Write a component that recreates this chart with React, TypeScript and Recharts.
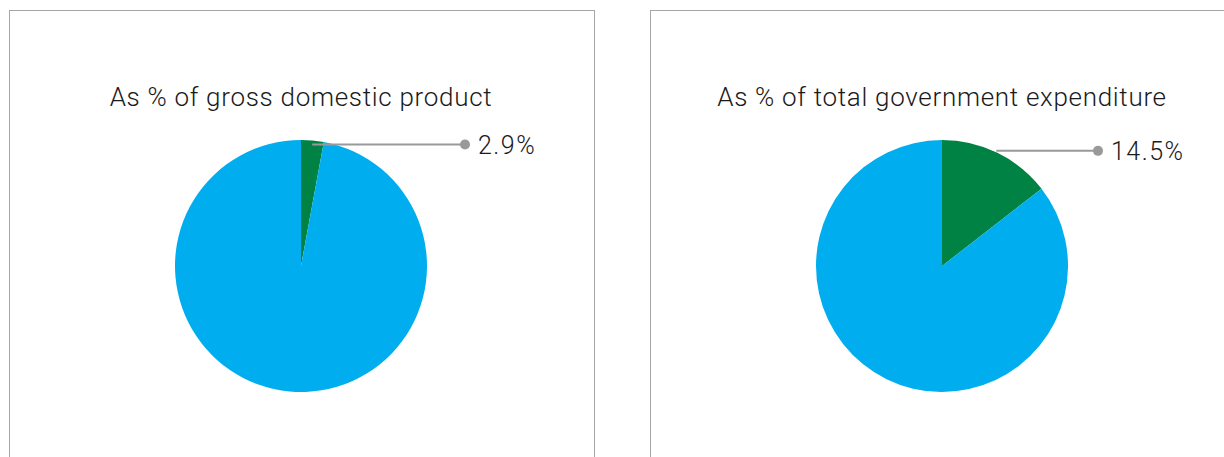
import { PieChart, Pie, Cell } from "recharts";

const titles = ["As % of gross domestic product", "As % of total government expenditure"];
const sliceNames = ["Share", "Rest"];
const gdpShare = [2.9, 97.1];
const expenditureShare = [14.5, 85.5];

const GREEN = "#008244";
const BLUE = "#00AEEF";

function CalloutLabel(props: any) {
  const { cx, cy, midAngle, outerRadius, index, value, dotX, lineDy } = props;
  if (index !== 0) return null;
  const rad = (Math.PI / 180) * midAngle;
  const x0 = cx + outerRadius * 0.98 * Math.cos(rad);
  const y = cy - outerRadius * Math.sin(rad) + lineDy;
  const xd = cx + dotX;
  return (
    <g>
      <line x1={x0} y1={y} x2={xd} y2={y} stroke="#999999" strokeWidth={2} />
      <circle cx={xd} cy={y} r={5} fill="#999999" />
      <text
        x={xd + 13}
        y={y}
        dy={9}
        fontSize={25}
        letterSpacing={1.5}
        fontFamily="Roboto, sans-serif"
        fontWeight={300}
        fill="#1a1a1a"
      >
        {value.toFixed(1)}%
      </text>
    </g>
  );
}

function Panel({ title, values, left, width, dotX, lineDy }: any) {
  const data = sliceNames.map((name, i) => ({ name, value: values[i] }));
  return (
    <div
      style={{
        position: "absolute",
        left,
        top: 10,
        width,
        height: 480,
        border: "1px solid #a6a6a6",
        background: "#fff",
      }}
    >
      <div
        style={{
          position: "absolute",
          left: 0,
          width: 582,
          top: 71,
          lineHeight: "30px",
          textAlign: "center",
          fontFamily: "Roboto, sans-serif",
          fontWeight: 300,
          fontSize: 26,
          letterSpacing: 0.7,
          color: "#1a1a1a",
        }}
      >
        {title}
      </div>
      <PieChart
        width={584}
        height={440}
        margin={{ top: 0, right: 0, bottom: 0, left: 0 }}
        style={{ position: "absolute", left: 0, top: 0 }}
      >
        <Pie
          data={data}
          dataKey="value"
          nameKey="name"
          cx={291}
          cy={255}
          outerRadius={126}
          startAngle={90}
          endAngle={-270}
          stroke="none"
          isAnimationActive={false}
          labelLine={false}
          label={(p: any) => <CalloutLabel {...p} dotX={dotX} lineDy={lineDy} />}
        >
          {data.map((d, i) => (
            <Cell key={d.name} fill={i === 0 ? GREEN : BLUE} />
          ))}
        </Pie>
      </PieChart>
    </div>
  );
}

export default function App() {
  return (
    <div
      style={{
        position: "absolute",
        left: 0,
        top: 0,
        width: 1224,
        height: 457,
        overflow: "hidden",
        background: "#fff",
      }}
    >
      <Panel title={titles[0]} values={gdpShare} left={9} width={584} dotX={164} lineDy={4} />
      <Panel title={titles[1]} values={expenditureShare} left={650} width={600} dotX={156} lineDy={-2} />
    </div>
  );
}
